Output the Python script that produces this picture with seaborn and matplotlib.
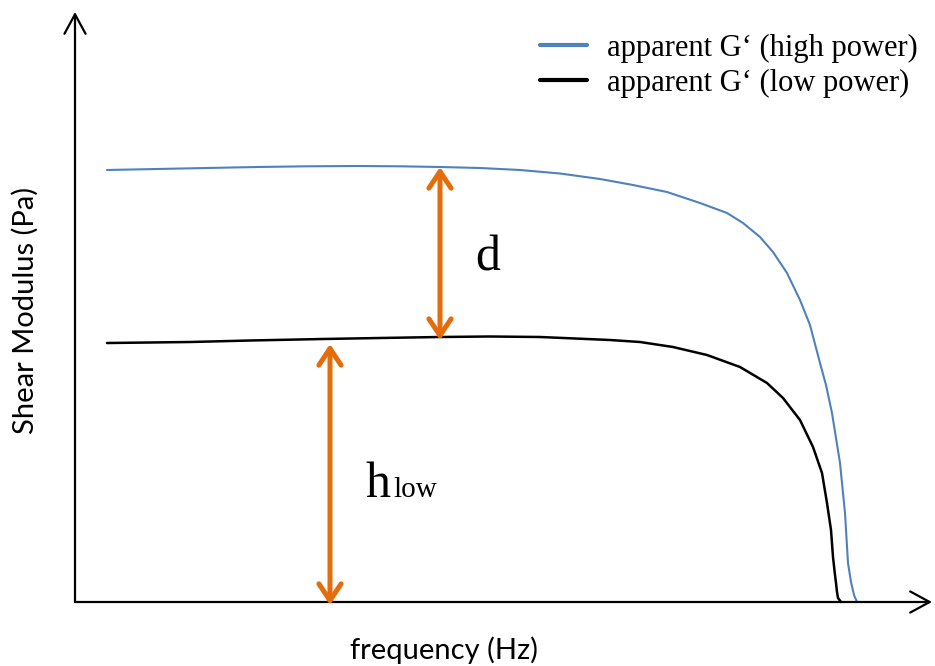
import numpy as np
import pandas as pd
import matplotlib
matplotlib.use("Agg")
import matplotlib.pyplot as plt
import seaborn as sns

# Schematic data (arbitrary units)
high_freq = [32, 82, 132, 182, 232, 282, 325, 365, 405, 445, 485, 525, 558, 592, 625, 652,
             668, 685, 698, 712, 725, 735, 745, 751, 757, 765, 770, 773, 776, 779, 782]
high_G = [432, 433, 434, 435, 435.7, 436, 435.7, 435, 434, 432, 428.5, 423, 417, 410, 399,
          389, 379, 365, 350, 329, 302, 277, 239, 217, 189, 139, 89, 39, 20, 7, 0]
low_freq = [32, 75, 115, 175, 248, 305, 365, 415, 465, 535, 565, 598, 632, 665, 692, 708,
            725, 738, 747, 752, 756, 758, 760, 761, 762, 763, 766]
low_G = [259, 259.5, 260, 261.5, 263, 264, 265, 265.5, 265, 262, 260, 255, 247, 235, 219,
         204, 182, 155, 129, 99, 72, 45, 27, 19, 10, 4, 0]
labels = ["apparent G\u2018 (high power)", "apparent G\u2018 (low power)"]

df = pd.concat([
    pd.DataFrame({"freq": high_freq, "G": high_G, "series": labels[0]}),
    pd.DataFrame({"freq": low_freq, "G": low_G, "series": labels[1]}),
])

sns.set_style("white")
plt.rcParams["text.color"] = "black"
fig = plt.figure(figsize=(9.35, 6.66), dpi=100)
ax = fig.add_axes([0, 0, 1, 1])
palette = {labels[0]: "#4F81BD", labels[1]: "#000000"}
sns.lineplot(data=df, x="freq", y="G", hue="series", palette=palette,
             sort=False, estimator=None, ax=ax, linewidth=1.5)
lines = ax.get_lines()
lines[1].set_linewidth(1.8)
for ln in lines:
    ln.set_solid_joinstyle("round")
ax.set_xlim(-75, 860)
ax.set_ylim(-64, 602)
ax.set_axis_off()

# axes with arrow heads
ax_kw = dict(arrowstyle="->,head_length=0.7,head_width=0.38", lw=1.6, color="black",
             shrinkA=0, shrinkB=0, mutation_scale=20)
ax.annotate("", xy=(0, 590), xytext=(0, 0), arrowprops=ax_kw)
ax.annotate("", xy=(857, 0), xytext=(0, 0), arrowprops=ax_kw)

# orange dimension arrows
orange = "#E46C0A"
or_kw = dict(arrowstyle="<->,head_length=0.6,head_width=0.4", lw=3.6, color=orange,
             shrinkA=0, shrinkB=0, mutation_scale=20)
ax.annotate("", xy=(365, 435), xytext=(365, 262), arrowprops=or_kw)
ax.annotate("", xy=(255, 258), xytext=(255, -3), arrowprops=or_kw)

serif = "Liberation Serif"
ax.text(413, 344, "d", fontsize=36, family=serif, ha="center", va="center")
ax.text(290, 105, "h", fontsize=36, family=serif, ha="left", va="baseline")
ax.text(318, 105, "low", fontsize=21, family=serif, ha="left", va="baseline")

sans = "Lato"
ax.text(-50, 292, "Shear Modulus (Pa)", fontsize=21, family=sans, rotation=90,
        ha="center", va="center")
ax.text(369, -48, "frequency (Hz)", fontsize=21, family=sans, ha="center", va="center")

leg = ax.legend(loc="upper right", bbox_to_anchor=(0.995, 0.968), frameon=False,
                prop={"family": serif, "size": 22}, handlelength=1.54, handletextpad=0.65,
                labelspacing=0.21, borderaxespad=0)
for h in leg.legend_handles:
    h.set_linewidth(3)

fig.savefig("out.png", dpi=100)
